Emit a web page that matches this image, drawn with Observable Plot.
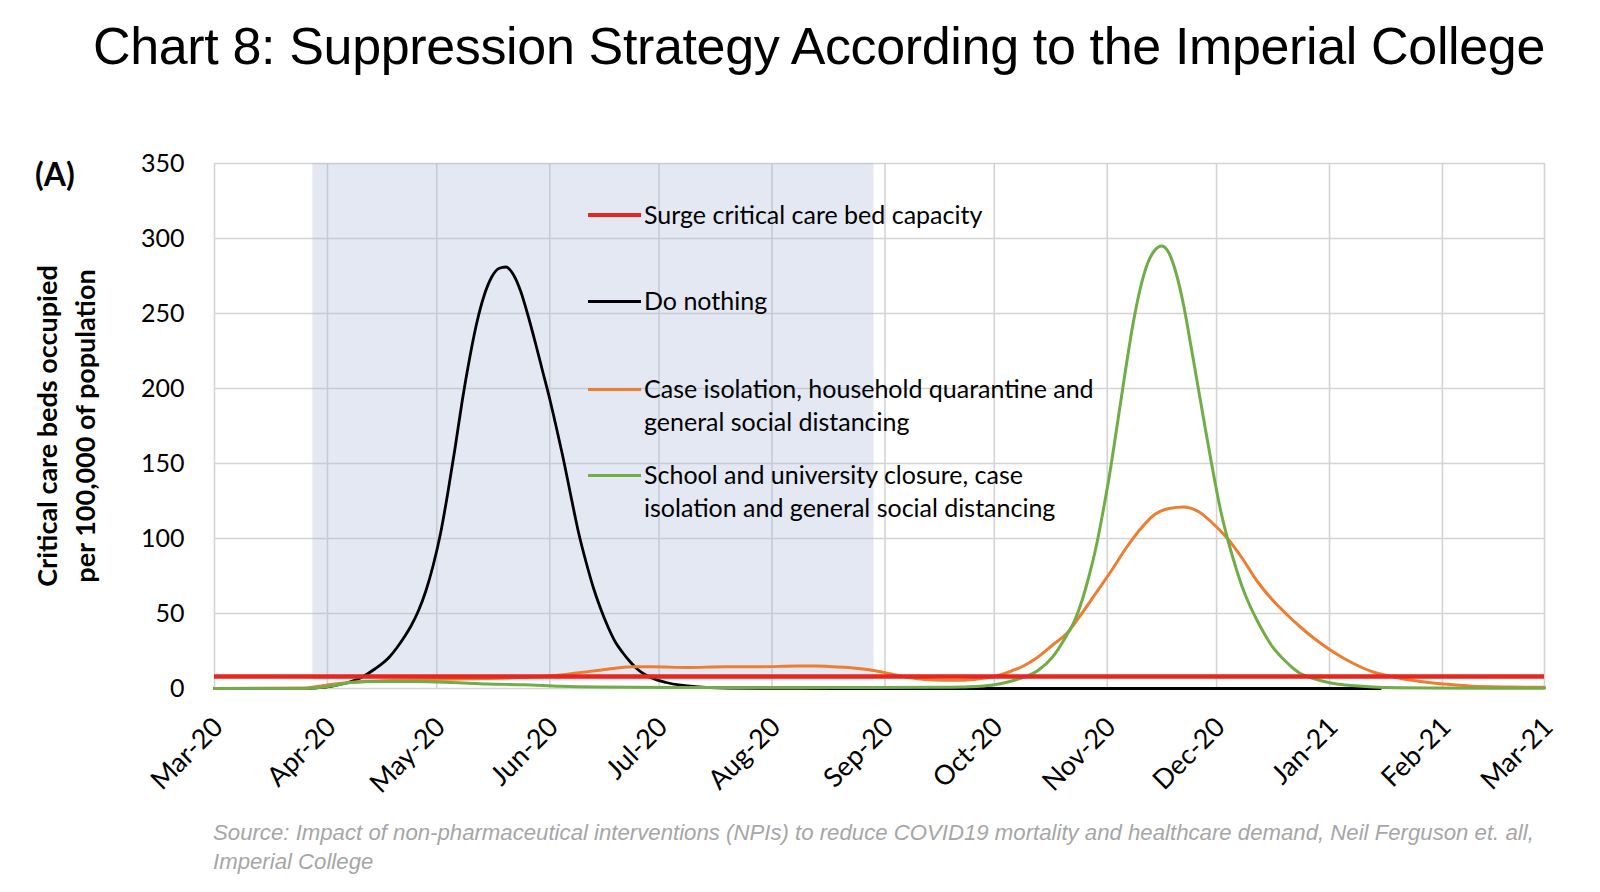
<!DOCTYPE html>
<html>
<head>
<meta charset="utf-8">
<script src="https://cdn.jsdelivr.net/npm/d3@7"></script>
<script src="https://cdn.jsdelivr.net/npm/@observablehq/plot@0.6"></script>
<style>
  html, body { margin: 0; padding: 0; background: #fff; }
  #page { position: relative; width: 1600px; height: 892px; overflow: hidden; background: #fff; }
  #title { position: absolute; left: 93px; top: 14px; font: 52px "Liberation Sans", Arial, sans-serif;
           color: #000; white-space: nowrap; line-height: 64px; }
  #chart { position: absolute; left: 0; top: 100px; }
  #panel { position: absolute; left: 35px; top: 154px; font: bold 32px Lato, sans-serif; color: #000; }
  #ytitle { position: absolute; left: -132px; top: 386px; width: 400px; height: 80px;
            font: bold 27px Lato, sans-serif; line-height: 38px; text-align: center; color: #000;
            transform: rotate(-90deg); transform-origin: 200px 40px; white-space: nowrap; }
  .sw { position: absolute; left: 588px; width: 53px; }
  .lt { position: absolute; left: 644px; font: 25px Lato, sans-serif; line-height: 33px; color: #000; white-space: nowrap; }
  #caption { position: absolute; left: 213px; top: 819px; width: 1380px;
             font: italic 22.2px "Liberation Sans", Arial, sans-serif; line-height: 28.6px; color: #a6a6a6; white-space: nowrap; }
</style>
</head>
<body>
<div id="page">
  <div id="title">Chart 8: Suppression Strategy According to the Imperial College</div>
  <div id="chart"></div>
  <div id="panel">(A)</div>
  <div id="ytitle">Critical care beds occupied<br>per 100,000 of population</div>
  <div id="legend"></div>
  <div id="caption">Source: Impact of non-pharmaceutical interventions (NPIs) to reduce COVID19 mortality and healthcare demand, Neil Ferguson et. all,<br>Imperial College</div>
</div>
<script>
// ---------- DATA ----------
const startDate = "2020-03-01";
const endDate = "2021-03-01";

const monthTicks = ["2020-03-01","2020-04-01","2020-05-01","2020-06-01","2020-07-01","2020-08-01",
  "2020-09-01","2020-10-01","2020-11-01","2020-12-01","2021-01-01","2021-02-01","2021-03-01"];
const monthLabels = ["Mar-20","Apr-20","May-20","Jun-20","Jul-20","Aug-20",
  "Sep-20","Oct-20","Nov-20","Dec-20","Jan-21","Feb-21","Mar-21"];
const yTicks = [0, 50, 100, 150, 200, 250, 300, 350];

// intervention period (shaded)
const shadeStart = "2020-03-28";
const shadeEnd = "2020-08-29";

// surge critical care bed capacity
const surgeCapacity = 8;

// days since 1 Mar 2020
const doNothingDays = [0, 25, 28, 32, 36, 40, 44, 48, 50, 52, 54, 56, 58, 60, 62, 64, 66, 68, 70, 72, 74, 76, 78, 80, 82, 84, 86, 88, 90, 92, 94, 96, 98, 100, 102, 104, 106, 108, 110, 112, 114, 116, 118, 120, 124, 128, 132, 136, 141, 170, 220, 270, 320];
const doNothingValues = [0, 0, 0.5, 1.5, 3.5, 7, 13, 21, 27, 34, 42, 52, 65, 82, 103, 130, 160, 192, 220, 244, 262, 274, 280, 281, 276, 265, 249, 231, 212, 193, 172, 150, 126, 103, 84, 67, 53, 41, 31, 24, 18, 13, 9.5, 7, 4, 2.2, 1.2, 0.6, 0.3, 0, 0, 0, 0];

const caseIsolationDays = [0, 25, 30, 35, 40, 50, 60, 70, 80, 90, 95, 100, 105, 110, 115, 120, 130, 140, 150, 160, 165, 170, 174, 178, 182, 186, 190, 195, 200, 205, 210, 214, 218, 222, 226, 230, 234, 238, 242, 246, 250, 254, 258, 262, 266, 270, 274, 278, 282, 286, 290, 294, 298, 302, 306, 310, 314, 318, 322, 326, 330, 335, 340, 345, 355, 365];
const caseIsolationValues = [0, 0.3, 2, 3.5, 4.5, 5.5, 6, 6.5, 7, 8, 9, 10.5, 12, 13.5, 14.5, 14.5, 14, 14.5, 14.5, 15, 15, 14.5, 14, 13, 11.5, 9.5, 7.5, 6, 5.5, 5.5, 6.5, 8, 11, 15, 21, 29, 37, 50, 64, 78, 93, 106, 116, 120, 121, 118, 110, 100, 87, 72, 60, 50, 41, 33, 26, 20, 15, 11, 8.5, 6.5, 5, 3.5, 2.5, 1.5, 1, 0.8];

const schoolClosureDays = [0, 24, 30, 34, 37, 45, 55, 65, 75, 85, 95, 105, 125, 160, 200, 205, 210, 214, 218, 222, 226, 230, 234, 236, 238, 240, 242, 244, 246, 248, 250, 252, 254, 256, 258, 260, 262, 264, 266, 268, 270, 272, 274, 276, 278, 280, 282, 284, 286, 288, 290, 292, 294, 296, 298, 300, 304, 308, 312, 318, 325, 335, 365];
const schoolClosureValues = [0, 0, 1, 2.5, 4, 4.6, 4.6, 4, 3, 2.5, 1.5, 1, 0.7, 0.7, 0.8, 1, 1.5, 2.5, 4.5, 7.5, 12, 21, 36, 45, 58, 75, 95, 120, 148, 180, 212, 242, 266, 283, 292, 295, 290, 276, 255, 228, 200, 172, 145, 120, 100, 83, 68, 56, 46, 37, 29, 23, 18, 13.5, 10, 8, 5, 3, 2, 1, 0.5, 0.3, 0.2];

// ---------- BUILD ----------
const base = new Date(startDate + "T00:00:00Z");
const toRows = (days, vals) => days.map((d, i) => ({date: d3.utcDay.offset(base, d), value: vals[i]}));
const parse = s => new Date(s + "T00:00:00Z");
const tickDates = monthTicks.map(parse);

const colors = {
  surge: "#e6261f",
  nothing: "#000000",
  caseIso: "#ED7D31",
  school: "#70AD47"
};

const chart = Plot.plot({
  width: 1600,
  height: 720,
  marginLeft: 214,
  marginRight: 56,
  marginTop: 63,
  marginBottom: 132,
  style: {fontFamily: "Lato, sans-serif", fontSize: "25px", color: "#000", background: "transparent"},
  x: {type: "utc", domain: [parse(startDate), parse(endDate)], axis: null},
  y: {domain: [0, 350]},
  marks: [
    Plot.gridY(yTicks, {stroke: "#d4d4d4", strokeWidth: 1.6, strokeOpacity: 1}),
    Plot.gridX(tickDates, {stroke: "#d4d4d4", strokeWidth: 1.6, strokeOpacity: 1}),
    Plot.rect([{x1: parse(shadeStart), x2: parse(shadeEnd), y1: 5, y2: 350}],
      {x1: "x1", x2: "x2", y1: "y1", y2: "y2", fill: "#aab9db", fillOpacity: 0.33}),
    Plot.axisY(yTicks, {tickSize: 0, tickPadding: 30, label: null, fontSize: 25}),
    Plot.text(tickDates, {x: d => d, frameAnchor: "bottom", text: (d, i) => monthLabels[i],
      rotate: -45, textAnchor: "end", lineAnchor: "middle", dx: 4, dy: 34, fontSize: 27, fill: "#000"}),
    Plot.line(toRows(doNothingDays, doNothingValues), {x: "date", y: "value", stroke: colors.nothing, strokeWidth: 2.8, curve: "monotone-x"}),
    Plot.line(toRows(caseIsolationDays, caseIsolationValues), {x: "date", y: "value", stroke: colors.caseIso, strokeWidth: 3, curve: "monotone-x"}),
    Plot.line(toRows(schoolClosureDays, schoolClosureValues), {x: "date", y: "value", stroke: colors.school, strokeWidth: 3, curve: "monotone-x"}),
    Plot.ruleY([surgeCapacity], {stroke: colors.surge, strokeWidth: 4.5})
  ]
});
document.getElementById("chart").appendChild(chart);

// fit title to the reference width by adjusting letter spacing
(function () {
  const t = document.getElementById("title");
  const target = 1452;
  const chars = t.textContent.length;
  const w = t.getBoundingClientRect().width;
  t.style.letterSpacing = ((target - w) / chars) + "px";
})();

// ---------- LEGEND ----------
const legendItems = [
  {label: "Surge critical care bed capacity", color: colors.surge, y: 215, w: 4},
  {label: "Do nothing", color: colors.nothing, y: 301, w: 3},
  {label: "Case isolation, household quarantine and<br>general social distancing", color: colors.caseIso, y: 389, w: 3},
  {label: "School and university closure, case<br>isolation and general social distancing", color: colors.school, y: 475, w: 3}
];
const legend = document.getElementById("legend");
legendItems.forEach(it => {
  const sw = document.createElement("div");
  sw.className = "sw";
  sw.style.top = (it.y - it.w / 2) + "px";
  sw.style.height = it.w + "px";
  sw.style.background = it.color;
  legend.appendChild(sw);
  const t = document.createElement("div");
  t.className = "lt";
  t.style.top = (it.y - 17) + "px";
  t.innerHTML = it.label;
  legend.appendChild(t);
});
</script>
</body>
</html>
